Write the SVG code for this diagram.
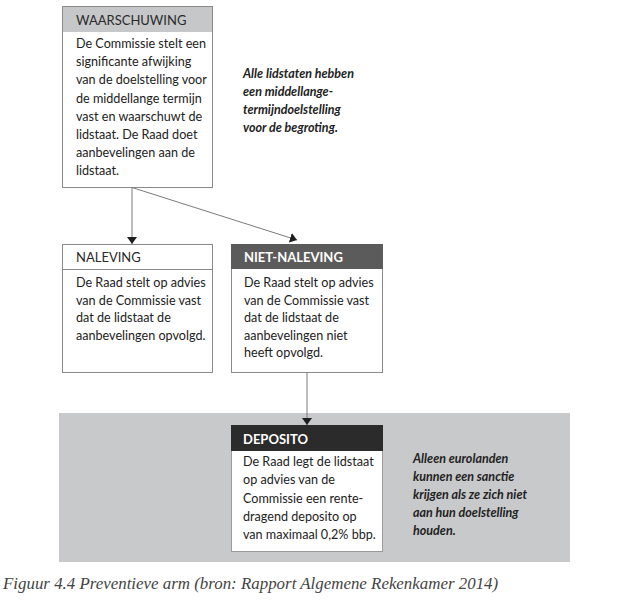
<svg xmlns="http://www.w3.org/2000/svg" width="642" height="600" viewBox="0 0 642 600">
<style>
.box{fill:#fff;stroke:#8a8a8a;stroke-width:1}
.hdr{font-family:Lato,"Open Sans",sans-serif;font-size:13px;fill:#2a2a2a}
.hdrw{font-family:Lato,"Open Sans",sans-serif;font-size:13px;fill:#fff;font-weight:bold}
.body{font-family:Lato,"Open Sans",sans-serif;font-size:12.6px;fill:#222}
.note{font-family:Lato,"Open Sans",sans-serif;font-size:12.5px;font-style:italic;font-weight:bold;fill:#222}
.conn{stroke:#7a7a7a;stroke-width:1;fill:none}
.cap{font-family:"Liberation Serif",serif;font-style:italic;font-size:16.9px;fill:#444}
</style>
<defs>
<marker id="arr" markerUnits="userSpaceOnUse" markerWidth="8" markerHeight="11" refX="7" refY="5" orient="auto">
<path d="M0,0 L7,5 L0,10 z" fill="#1e1e1e"/>
</marker>
</defs>
<rect id="band" x="59" y="413" width="511" height="149" fill="#c8c9cb"/>
<g id="waarschuwing">
<rect class="box" x="62.5" y="6.5" width="150" height="181"/>
<rect x="63" y="7" width="149" height="25" fill="#c6c7c9"/>
<text class="hdr" x="76" y="25">WAARSCHUWING</text>
<text class="body" x="76" y="48">De Commissie stelt een</text>
<text class="body" x="76" y="66.2">significante afwijking</text>
<text class="body" x="76" y="84.4">van de doelstelling voor</text>
<text class="body" x="76" y="102.6">de middellange termijn</text>
<text class="body" x="76" y="120.8">vast en waarschuwt de</text>
<text class="body" x="76" y="139">lidstaat. De Raad doet</text>
<text class="body" x="76" y="157.2">aanbevelingen aan de</text>
<text class="body" x="76" y="175.4">lidstaat.</text>
</g>
<g id="note1">
<text class="note" x="243" y="78">Alle lidstaten hebben</text>
<text class="note" x="243" y="96">een middellange-</text>
<text class="note" x="243" y="114">termijndoelstelling</text>
<text class="note" x="243" y="132">voor de begroting.</text>
</g>
<g id="naleving">
<rect class="box" x="62.5" y="244.5" width="150" height="128"/>
<line x1="62.5" y1="269.5" x2="212.5" y2="269.5" stroke="#8a8a8a" stroke-width="1"/>
<text class="hdr" x="76" y="261.5">NALEVING</text>
<text class="body" x="76" y="287">De Raad stelt op advies</text>
<text class="body" x="76" y="304.6">van de Commissie vast</text>
<text class="body" x="76" y="322.2">dat de lidstaat de</text>
<text class="body" x="76" y="339.8">aanbevelingen opvolgd.</text>
</g>
<g id="niet-naleving">
<rect class="box" x="231.5" y="244.5" width="151" height="128"/>
<rect x="231" y="244" width="152" height="25" fill="#5b5b5b"/>
<text class="hdrw" x="244" y="261.5">NIET-NALEVING</text>
<text class="body" x="244" y="287">De Raad stelt op advies</text>
<text class="body" x="244" y="304.6">van de Commissie vast</text>
<text class="body" x="244" y="322.2">dat de lidstaat de</text>
<text class="body" x="244" y="339.8">aanbevelingen niet</text>
<text class="body" x="244" y="357.4">heeft opvolgd.</text>
</g>
<g id="deposito">
<rect x="231.5" y="425.5" width="151" height="126" fill="#fff" stroke="#9a9a9a" stroke-width="1"/>
<rect x="231" y="425" width="152" height="26" fill="#2b2b2b"/>
<text class="hdrw" x="243" y="443.5">DEPOSITO</text>
<text class="body" x="243" y="466">De Raad legt de lidstaat</text>
<text class="body" x="243" y="484.3">op advies van de</text>
<text class="body" x="243" y="502.6">Commissie een rente-</text>
<text class="body" x="243" y="520.9">dragend deposito op</text>
<text class="body" x="243" y="539.2">van maximaal 0,2% bbp.</text>
</g>
<g id="note2">
<text class="note" x="413" y="463">Alleen eurolanden</text>
<text class="note" x="413" y="481">kunnen een sanctie</text>
<text class="note" x="413" y="499">krijgen als ze zich niet</text>
<text class="note" x="413" y="517">aan hun doelstelling</text>
<text class="note" x="413" y="535">houden.</text>
</g>
<g id="connectors">
<path class="conn" d="M132,187.5 L132,244" marker-end="url(#arr)"/>
<path class="conn" d="M132,187.5 L297,240" marker-end="url(#arr)"/>
<path class="conn" d="M307,372.5 L307,425" marker-end="url(#arr)"/>
</g>
<text class="cap" x="3" y="589">Figuur 4.4 Preventieve arm (bron: Rapport Algemene Rekenkamer 2014)</text>
</svg>
